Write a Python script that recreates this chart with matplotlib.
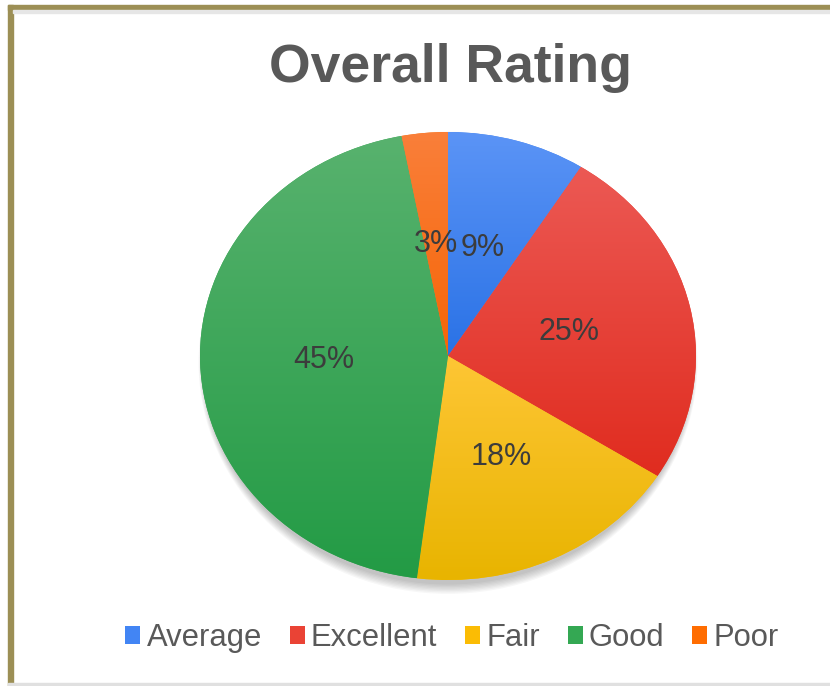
import numpy as np
import matplotlib.pyplot as plt
from matplotlib.colors import LinearSegmentedColormap
from matplotlib.patches import Ellipse, Rectangle

plt.rcParams['font.family'] = ['Liberation Sans', 'DejaVu Sans']

# data
labels = ['Average', 'Excellent', 'Fair', 'Good', 'Poor']
shares = [9, 25, 18, 45, 3]
base_colors = ['#4285F4', '#EA4335', '#FBBC04', '#34A853', '#FF6D01']
top_colors = ['#5B94F6', '#EC5954', '#FEC635', '#58B26E', '#FA7F3A']
bottom_colors = ['#2A72E6', '#E02C1F', '#E8B400', '#239B45', '#F66506']

W, H = 830, 686
fig = plt.figure(figsize=(W / 100, H / 100), dpi=100)

# frame: olive left/top border, light grey bottom line
fig.patches.append(Rectangle((8 / W, 0), 5 / W, 681 / H, transform=fig.transFigure,
                             color='#9C8F55', zorder=0))
fig.patches.append(Rectangle((8 / W, 676 / H), 822 / W, 5 / H, transform=fig.transFigure,
                             color='#9C8F55', zorder=0))
fig.patches.append(Rectangle((13 / W, 673 / H), 817 / W, 3 / H, transform=fig.transFigure,
                             color='#E6E6E6', zorder=0))
fig.patches.append(Rectangle((8 / W, 0), 822 / W, 3 / H, transform=fig.transFigure,
                             color='#E0E0E0', zorder=0))

# pie axes (ellipse: wider than tall)
ax = fig.add_axes([200 / W, (H - 580) / H, 496 / W, 448 / H])
ax.axis('off')

# soft shadow under the pie
for i in range(8):
    ax.add_patch(Ellipse((0.0, -0.03), 1.97 + i * 0.006, 1.98 + i * 0.012,
                         color='black', alpha=0.03, lw=0, zorder=0.5, clip_on=False))

wedges, texts, autotexts = ax.pie(
    shares, colors=base_colors, startangle=90, counterclock=False,
    autopct='%1.0f%%', pctdistance=0.5, radius=1, frame=False,
    textprops=dict(fontsize=22, color='#3C3C3C'))
ax.set_aspect('auto')

# vertical gradient on each slice
for w, top, bot in zip(wedges, top_colors, bottom_colors):
    th = np.radians(np.linspace(w.theta1, w.theta2, 200))
    ys = np.concatenate([np.sin(th), [0]])
    y0, y1 = ys.min(), ys.max()
    cmap = LinearSegmentedColormap.from_list('g', [bot, top])
    grad = np.linspace(0, 1, 256).reshape(-1, 1)
    im = ax.imshow(grad, cmap=cmap, extent=[-1, 1, y0, y1], origin='lower',
                   aspect='auto', zorder=1.5, interpolation='bilinear')
    im.set_clip_path(w)
ax.set_xlim(-1, 1)
ax.set_ylim(-1, 1)

for t in autotexts:
    t.set_zorder(5)

fig.text(450 / W, 1 - 82 / H, 'Overall Rating', ha='center', va='baseline',
         fontsize=38.5, fontweight='bold', color='#595959')

leg = fig.legend(wedges, labels, loc='center', bbox_to_anchor=(452 / W, 1 - 638 / H),
                 ncol=5, frameon=False, fontsize=22.3, handlelength=0.48, handleheight=0.48,
                 handletextpad=0.2, columnspacing=0.9, labelcolor='#595959')

fig.savefig('out.png', dpi=100)
